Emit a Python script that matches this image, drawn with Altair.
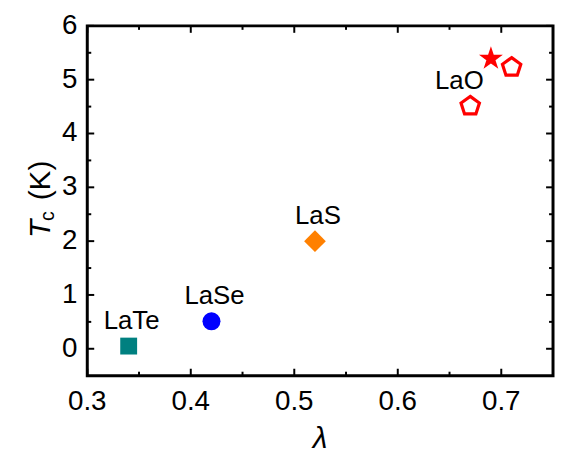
import altair as alt
import pandas as pd

# ---- data ----
series = ["LaTe", "LaSe", "LaS", "LaO", "LaO", "LaO"]
lam = [0.34, 0.42, 0.52, 0.69, 0.67, 0.71]
tc = [0.05, 0.51, 2.00, 5.39, 4.51, 5.23]
marker = ["square", "circle", "diamond", "star", "pentagon", "pentagon"]
label = ["LaTe", "LaSe", "LaS", "", "LaO", ""]

color_domain = ["LaTe", "LaSe", "LaS", "LaO"]
color_range = ["#008080", "#0000FF", "#FF8000", "#FF0000"]

x_major = [0.3, 0.4, 0.5, 0.6, 0.7]
x_minor = [0.35, 0.45, 0.55, 0.65]
y_major = [0, 1, 2, 3, 4, 5, 6]
y_minor = [0.5, 1.5, 2.5, 3.5, 4.5, 5.5]

df = pd.DataFrame({"series": series, "lam": lam, "tc": tc,
                   "marker": marker, "label": label})

FONT = "Liberation Sans"
W, H = 470, 353
MAJ, MIN = 7, 4
PENT = "M0,-1L0.951,-0.309L0.588,0.809L-0.588,0.809L-0.951,-0.309Z"
STAR = ("M0,-1L0.2245,-0.309L0.951,-0.309L0.3633,0.118L0.588,0.809L0,0.382"
        "L-0.588,0.809L-0.3633,0.118L-0.951,-0.309L-0.2245,-0.309Z")

xs = alt.Scale(domain=[0.3, 0.75], nice=False, zero=False)
ys = alt.Scale(domain=[-0.5, 6], nice=False, zero=False)
col = alt.Color("series:N", scale=alt.Scale(domain=color_domain, range=color_range), legend=None)

base = alt.Chart(df)
X = alt.X("lam:Q", scale=xs, axis=None)
Y = alt.Y("tc:Q", scale=ys, axis=None)


def filled_layer(kind, shape, size):
    return base.transform_filter(alt.datum.marker == kind).mark_point(
        filled=True, opacity=1, strokeWidth=0, shape=shape, size=size
    ).encode(x=X, y=Y, color=col)


sq = filled_layer("square", "square", 290)
ci = filled_layer("circle", "circle", 330)
di = filled_layer("diamond", "diamond", 480)
st = filled_layer("star", STAR, 640)

pent = base.transform_filter(alt.datum.marker == "pentagon").mark_point(
    shape=PENT, filled=False, strokeWidth=3.2, size=380, opacity=1
).encode(x=X, y=Y, color=col)

labels_main = base.transform_filter(
    alt.FieldOneOfPredicate(field="label", oneOf=["LaTe", "LaSe", "LaS"])
).mark_text(font=FONT, fontSize=26, color="black", dx=3, dy=-17,
            align="center", baseline="alphabetic").encode(x=X, y=Y, text="label:N")

labels_lao = base.transform_filter(alt.datum.label == "LaO").mark_text(
    font=FONT, fontSize=26, color="black", dx=-11, dy=-17,
    align="center", baseline="alphabetic").encode(x=X, y=Y, text="label:N")


# inward ticks on all four sides, positioned by the shared scales
def xticks(vals, y0, y1):
    return alt.Chart(pd.DataFrame({"v": vals})).mark_rule(color="black", strokeWidth=2).encode(
        x=alt.X("v:Q", scale=xs, axis=None), y=alt.value(y0), y2=alt.value(y1))


def yticks(vals, x0, x1):
    return alt.Chart(pd.DataFrame({"v": vals})).mark_rule(color="black", strokeWidth=2).encode(
        y=alt.Y("v:Q", scale=ys, axis=None), x=alt.value(x0), x2=alt.value(x1))


ticks = [
    xticks(x_major, H, H - MAJ), xticks(x_minor, H, H - MIN),
    xticks(x_major, 0, MAJ), xticks(x_minor, 0, MIN),
    yticks(y_major, 0, MAJ), yticks(y_minor, 0, MIN),
    yticks(y_major, W, W - MAJ), yticks(y_minor, W, W - MIN),
]

# tick labels, placed through the same scales
x_tick_labels = alt.Chart(pd.DataFrame({"v": x_major})).mark_text(
    font=FONT, fontSize=28, color="black", align="center", baseline="top"
).encode(x=alt.X("v:Q", scale=xs, axis=None), y=alt.value(H + 13),
         text=alt.Text("v:Q", format=".1f"))
y_tick_labels = alt.Chart(pd.DataFrame({"v": y_major})).mark_text(
    font=FONT, fontSize=28, color="black", align="right", baseline="middle"
).encode(y=alt.Y("v:Q", scale=ys, axis=None), x=alt.value(-10),
         text=alt.Text("v:Q", format="d"))

one = alt.Data(values=[{"k": 1}])
x_title = alt.Chart(one).mark_text(font=FONT, fontSize=30, fontStyle="italic",
                                   align="center", baseline="alphabetic", color="black").encode(
    x=alt.value(W / 2), y=alt.value(H + 73), text=alt.value("λ"))
ttl_T = alt.Chart(one).mark_text(font=FONT, fontSize=30, fontStyle="italic", angle=270,
                                 align="left", baseline="alphabetic", color="black").encode(
    x=alt.value(-38), y=alt.value(214), text=alt.value("T"))
ttl_c = alt.Chart(one).mark_text(font=FONT, fontSize=20, angle=270,
                                 align="left", baseline="alphabetic", color="black").encode(
    x=alt.value(-34), y=alt.value(197), text=alt.value("c"))
ttl_K = alt.Chart(one).mark_text(font=FONT, fontSize=30, angle=270,
                                 align="left", baseline="alphabetic", color="black").encode(
    x=alt.value(-38), y=alt.value(176), text=alt.value("(K)"))

chart = alt.layer(
    sq, ci, di, st, pent, labels_main, labels_lao, *ticks,
    x_tick_labels, y_tick_labels, x_title, ttl_T, ttl_c, ttl_K
).properties(
    width=W, height=H,
    autosize=alt.AutoSizeParams(type="none"),
    padding={"left": 80, "top": 16, "right": 2, "bottom": 77},
    background="white",
).configure_view(stroke="black", strokeWidth=3)

chart.save("out.html", embed_options={"renderer": "svg", "actions": False})
